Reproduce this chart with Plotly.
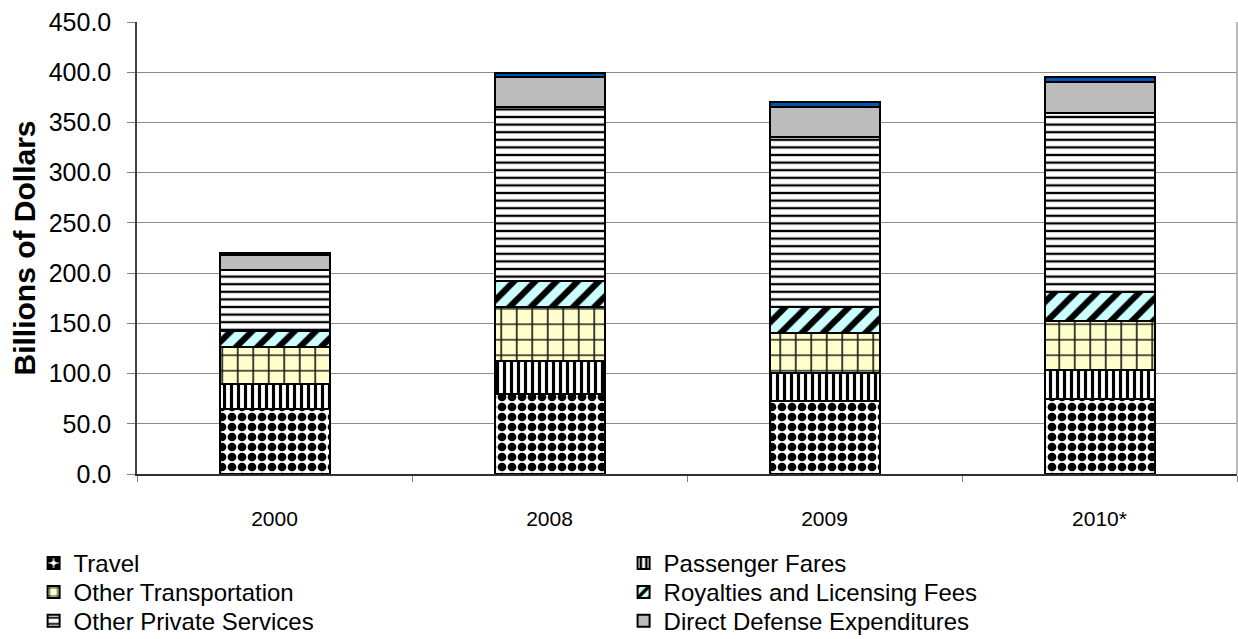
import plotly.graph_objects as go

# U.S. services imports by type, billions of dollars
years = ["2000", "2008", "2009", "2010*"]

travel = [64.7, 79.3, 72.7, 74.4]
passenger_fares = [24.9, 33.2, 27.6, 29.1]
other_transportation = [36.5, 54.1, 40.4, 49.1]
royalties_fees = [16.6, 25.6, 25.3, 28.9]
other_private = [60.4, 173.5, 169.2, 177.6]
defense = [14.9, 29.3, 30.5, 31.5]
gov_misc = [2.5, 4.0, 5.0, 5.0]

y_ticks = [0, 50, 100, 150, 200, 250, 300, 350, 400, 450]

FONT = "Liberation Sans, Arial, sans-serif"

# (name, values, fill pattern, legend row)
series = [
    ("Travel", travel, dict(shape=".", bgcolor="white", fgcolor="black", size=10, solidity=0.6), "legend"),
    ("Passenger Fares", passenger_fares, dict(shape="|", bgcolor="white", fgcolor="black", size=7, solidity=0.45), "legend"),
    ("Other Transportation", other_transportation, dict(shape="+", bgcolor="#FFFFCC", fgcolor="#1A1A1A", size=15.5, solidity=0.2), "legend2"),
    ("Royalties and Licensing Fees", royalties_fees, dict(shape="/", bgcolor="#CCFFFF", fgcolor="black", size=15, solidity=0.42), "legend2"),
    ("Other Private Services", other_private, dict(shape="-", bgcolor="white", fgcolor="black", size=7.6, solidity=0.3), "legend3"),
    ("Direct Defense Expenditures", defense, None, "legend3"),
    ("U.S. Government Miscellaneous Services", gov_misc, None, None),
]

fig = go.Figure()
for name, vals, pattern, leg in series:
    marker = dict(line=dict(color="black", width=2))
    if pattern is not None:
        pattern["fgopacity"] = 1
        marker["pattern"] = pattern
        marker["color"] = pattern["bgcolor"]
    elif name.startswith("Direct"):
        marker["color"] = "#BCBCBC"
    else:
        marker["color"] = "#0055B0"
    fig.add_trace(go.Bar(x=years, y=vals, name=name, marker=marker, width=0.4,
                         showlegend=leg is not None, legend=leg or "legend"))


def legend_row(y):
    return dict(
        orientation="h", x=-0.094, y=y, xanchor="left", yanchor="top",
        font=dict(size=24, family=FONT), entrywidth=545, entrywidthmode="pixels",
        traceorder="normal", itemwidth=30, bgcolor="rgba(0,0,0,0)",
    )


fig.update_layout(
    barmode="stack",
    width=1238, height=639,
    margin=dict(l=137, r=1, t=22, b=165, autoexpand=False),
    paper_bgcolor="white", plot_bgcolor="white",
    font=dict(family=FONT, color="black"),
    showlegend=True,
    legend=legend_row(-0.148),
    legend2=legend_row(-0.212),
    legend3=legend_row(-0.276),
    xaxis=dict(
        type="category", tickson="boundaries", ticks="outside", ticklen=6,
        tickcolor="#808080", showline=True, linecolor="#303030", linewidth=2,
        showgrid=False, tickfont=dict(size=21, family=FONT),
        ticklabelstandoff=25, range=[-0.5, 3.5],
    ),
    yaxis=dict(
        range=[0, 450], tickvals=y_ticks, tickformat=".1f",
        ticks="outside", ticklen=8, tickcolor="#808080",
        showline=True, linecolor="#404040", linewidth=1.5,
        showgrid=True, gridcolor="#8C8C8C", gridwidth=1,
        tickfont=dict(size=25, family=FONT), ticklabelstandoff=11,
        title=dict(text="<b>Billions of Dollars</b>", font=dict(size=30, family=FONT), standoff=4),
        zeroline=False,
    ),
    bargap=0.6,
)

# right edge of the plotting area
fig.add_shape(type="line", xref="paper", yref="paper", x0=1, x1=1, y0=0, y1=1,
              line=dict(color="#A0A0A0", width=1.5))

fig.write_html("out.html")
